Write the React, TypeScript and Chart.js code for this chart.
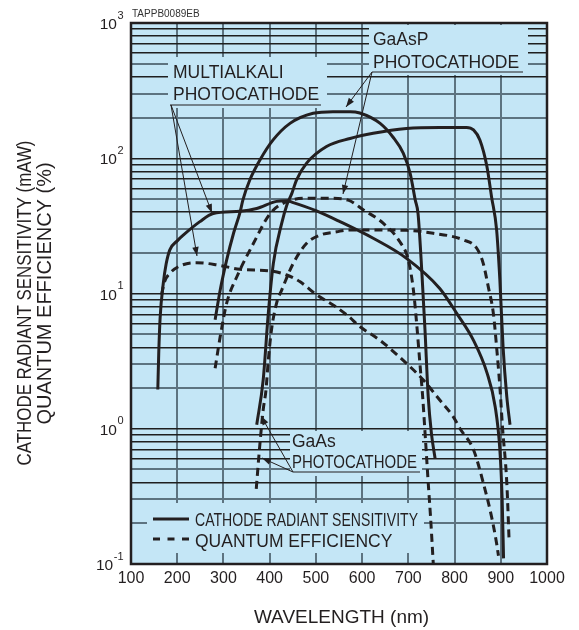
import React, { useEffect, useRef } from 'react';
import { Chart, registerables } from 'chart.js';

Chart.register(...registerables);

const FONT = '"Liberation Sans", Arial, Helvetica, sans-serif';
const INK = '#231f20';
const BG = '#c4e6f6';
const GRID_DARK = '#1f1f1f';
const GRID_GRAY = '#5d7380';

// ---- axis values ----
const xMin = 100;
const xMax = 1000;
const xStep = 100;
const yMin = 0.1;
const yMax = 1000;
const yGridValues = [
  0.1, 0.2, 0.3, 0.4, 0.5, 0.6, 0.7, 0.8, 0.9,
  1, 2, 3, 4, 5, 6, 7, 8, 9,
  10, 20, 30, 40, 50, 60, 70, 80, 90,
  100, 200, 300, 400, 500, 600, 700, 800, 900,
  1000,
];
const yLabelValues = [1000, 100, 10, 1, 0.1];
const yLabelExponents = ['3', '2', '1', '0', '-1'];

// ---- series (wavelength nm, value) ----
const multialkaliSensX = [158, 160, 163, 170, 176, 184, 200, 213, 249, 278, 336, 372, 415, 437, 451, 500, 552, 624, 696, 768, 805, 841, 870, 888, 898, 903, 906];
const multialkaliSensY = [1.95, 3.6, 6.6, 12, 16.5, 21, 24.5, 27, 34, 39, 40.5, 42.5, 48, 48.5, 47, 41, 34, 25.6, 18.2, 10.9, 7.1, 4.5, 2.6, 1.45, 0.7, 0.3, 0.11];

const multialkaliQeX = [166, 173, 184, 206, 242, 285, 336, 401, 437, 466, 502, 538, 570, 595, 639, 689, 732, 768, 797, 812, 841, 862, 880, 891, 895];
const multialkaliQeY = [9.8, 12.3, 14.1, 16, 16.9, 16.3, 15.1, 14.7, 13.7, 12.2, 9.75, 8.2, 6.8, 5.7, 4.5, 3.2, 2.3, 1.63, 1.23, 1.0, 0.7, 0.4, 0.224, 0.142, 0.115];

const gaasPSensX = [282, 293, 307, 322, 336, 342, 357, 379, 407, 444, 494, 537, 574, 595, 639, 667, 689, 704, 715, 721, 729, 736, 743, 750, 758];
const gaasPSensY = [6.4, 10.6, 17.7, 28, 40, 49, 69, 97, 136, 181, 215, 221, 221, 216, 181, 143, 109, 77, 49, 39, 14.9, 5.4, 1.73, 0.92, 0.6];

const gaasPQeX = [282, 293, 307, 329, 365, 401, 437, 480, 531, 570, 603, 646, 682, 700, 711, 718, 725, 731, 736, 743, 748, 754];
const gaasPQeY = [2.8, 4.8, 8.5, 13.3, 23.5, 39, 47.7, 50.6, 50.6, 49, 41.5, 33, 24, 17.7, 10.6, 6.0, 3.05, 1.73, 0.95, 0.4, 0.224, 0.1];

const gaasSensX = [372, 386, 397, 408, 426, 437, 448, 458, 480, 523, 574, 624, 696, 768, 826, 841, 855, 870, 880, 891, 898, 905, 913, 920];
const gaasSensY = [1.07, 2.3, 7.1, 16.7, 33, 45, 55, 69, 92, 122, 140, 153, 166, 169, 169, 162, 136, 87, 52, 29.5, 12.6, 4.0, 1.73, 1.07];

const gaasQeX = [371, 379, 386, 392, 397, 404, 415, 426, 451, 480, 509, 545, 570, 624, 696, 754, 819, 848, 862, 873, 884, 891, 898, 904, 913, 918];
const gaasQeY = [0.36, 0.78, 1.38, 1.93, 3.2, 5.4, 8.5, 10.6, 16.7, 23.5, 27, 28.6, 29.5, 29.5, 29.3, 27.9, 24.9, 21.6, 16.7, 11.2, 7.1, 4.0, 2.05, 1.0, 0.4, 0.15];

const toPoints = (xs: number[], ys: number[]) => xs.map((x, i) => ({ x, y: ys[i] }));

// ---- annotation layout (pixels) ----
const labelBoxes = [
  { x: 168, y: 57, w: 159, h: 51 },
  { x: 369, y: 25, w: 159, h: 50 },
  { x: 290, y: 431, w: 132, h: 45 },
  { x: 147, y: 503, w: 277, h: 50 },
];

const labelTexts = [
  { t: 'MULTIALKALI', x: 173, y: 78, mw: 0 },
  { t: 'PHOTOCATHODE', x: 173, y: 100, mw: 0 },
  { t: 'GaAsP', x: 373, y: 45, mw: 0 },
  { t: 'PHOTOCATHODE', x: 373, y: 67.5, mw: 0 },
  { t: 'GaAs', x: 292, y: 447, mw: 0 },
  { t: 'PHOTOCATHODE', x: 292, y: 468, mw: 125 },
];

const underlines = [
  { x1: 170, x2: 321, y: 105 },
  { x1: 372, x2: 523, y: 72 },
  { x1: 293, x2: 420, y: 472 },
];

const leaders = [
  { x1: 171, y1: 105, x2: 212, y2: 213 },
  { x1: 171, y1: 105, x2: 197, y2: 256 },
  { x1: 372, y1: 72, x2: 346, y2: 107 },
  { x1: 372, y1: 72, x2: 343, y2: 194 },
  { x1: 293, y1: 472, x2: 261, y2: 416 },
  { x1: 293, y1: 472, x2: 262, y2: 458 },
];

function drawArrow(ctx: CanvasRenderingContext2D, x1: number, y1: number, x2: number, y2: number) {
  ctx.beginPath();
  ctx.moveTo(x1, y1);
  ctx.lineTo(x2, y2);
  ctx.stroke();
  const a = Math.atan2(y2 - y1, x2 - x1);
  const L = 9;
  const W = 3.2;
  const c = Math.cos(a);
  const s = Math.sin(a);
  ctx.beginPath();
  ctx.moveTo(x2, y2);
  ctx.lineTo(x2 - L * c + W * s, y2 - L * s - W * c);
  ctx.lineTo(x2 - L * c - W * s, y2 - L * s + W * c);
  ctx.closePath();
  ctx.fill();
}

const overlayPlugin = {
  id: 'overlay',
  beforeDraw(chart: any) {
    const { ctx, chartArea: a } = chart;
    ctx.save();
    ctx.fillStyle = BG;
    ctx.fillRect(a.left, a.top, a.right - a.left, a.bottom - a.top);
    ctx.restore();
  },
  beforeDatasetsDraw(chart: any) {
    const { ctx } = chart;
    ctx.save();
    ctx.fillStyle = BG;
    labelBoxes.forEach((b) => ctx.fillRect(b.x, b.y, b.w, b.h));
    ctx.restore();
  },
  afterDatasetsDraw(chart: any) {
    const { ctx, chartArea: a } = chart;
    const ys = chart.scales.y;
    ctx.save();
    // frame
    ctx.strokeStyle = INK;
    ctx.lineWidth = 2.5;
    ctx.strokeRect(a.left, a.top, a.right - a.left, a.bottom - a.top);

    // annotation texts
    ctx.fillStyle = INK;
    ctx.textAlign = 'left';
    ctx.textBaseline = 'alphabetic';
    ctx.font = `17.5px ${FONT}`;
    labelTexts.forEach((l) => {
      if (l.mw) ctx.fillText(l.t, l.x, l.y, l.mw);
      else ctx.fillText(l.t, l.x, l.y);
    });
    ctx.lineWidth = 1;
    underlines.forEach((u) => {
      ctx.beginPath();
      ctx.moveTo(u.x1, u.y);
      ctx.lineTo(u.x2, u.y);
      ctx.stroke();
    });
    leaders.forEach((l) => drawArrow(ctx, l.x1, l.y1, l.x2, l.y2));

    // legend
    ctx.lineWidth = 3;
    ctx.beginPath();
    ctx.moveTo(153, 519);
    ctx.lineTo(189, 519);
    ctx.stroke();
    ctx.setLineDash([7, 7.5]);
    ctx.beginPath();
    ctx.moveTo(153, 539);
    ctx.lineTo(189, 539);
    ctx.stroke();
    ctx.setLineDash([]);
    ctx.font = `17.5px ${FONT}`;
    ctx.fillText('CATHODE RADIANT SENSITIVITY', 195, 526, 223);
    ctx.fillText('QUANTUM EFFICIENCY', 195, 547, 198);

    // top code
    ctx.font = `10px ${FONT}`;
    ctx.fillStyle = '#333';
    ctx.fillText('TAPPB0089EB', 132, 17);
    ctx.fillStyle = INK;

    // y tick labels with superscripts
    yLabelValues.forEach((v, i) => {
      const py = ys.getPixelForValue(v);
      const exp = yLabelExponents[i];
      ctx.font = `11px ${FONT}`;
      const ew = ctx.measureText(exp).width;
      const ex = 123.5 - ew;
      ctx.fillText(exp, ex, py - 4.5);
      ctx.font = `15.5px ${FONT}`;
      const bw = ctx.measureText('10').width;
      ctx.fillText('10', ex - 0.5 - bw, py + 6);
    });

    // axis titles
    ctx.font = `19px ${FONT}`;
    ctx.textAlign = 'center';
    ctx.fillText('WAVELENGTH (nm)', 341.5, 623);
    ctx.font = `20px ${FONT}`;
    ctx.save();
    ctx.translate(31, 303);
    ctx.rotate(-Math.PI / 2);
    ctx.fillText('CATHODE RADIANT SENSITIVITY (mAW)', 0, 0, 325);
    ctx.restore();
    ctx.save();
    ctx.translate(50.5, 293.5);
    ctx.rotate(-Math.PI / 2);
    ctx.fillText('QUANTUM EFFICIENCY (%)', 0, 0);
    ctx.restore();
    ctx.restore();
  },
};

function isGrayLine(v: number) {
  const m = Math.round(v / Math.pow(10, Math.floor(Math.log10(v) + 1e-9)));
  return m === 2 || m === 3 || m === 5;
}

export default function App() {
  const canvasRef = useRef<HTMLCanvasElement | null>(null);

  useEffect(() => {
    if (!canvasRef.current) return;
    const solid = { borderColor: INK, borderWidth: 3, pointRadius: 0, fill: false, cubicInterpolationMode: 'monotone' as const };
    const dashed = { ...solid, borderDash: [8, 5] };
    const chart = new Chart(canvasRef.current, {
      type: 'line',
      data: {
        datasets: [
          { label: 'Multialkali cathode radiant sensitivity', data: toPoints(multialkaliSensX, multialkaliSensY), ...solid },
          { label: 'Multialkali quantum efficiency', data: toPoints(multialkaliQeX, multialkaliQeY), ...dashed },
          { label: 'GaAsP cathode radiant sensitivity', data: toPoints(gaasPSensX, gaasPSensY), ...solid },
          { label: 'GaAsP quantum efficiency', data: toPoints(gaasPQeX, gaasPQeY), ...dashed },
          { label: 'GaAs cathode radiant sensitivity', data: toPoints(gaasSensX, gaasSensY), ...solid },
          { label: 'GaAs quantum efficiency', data: toPoints(gaasQeX, gaasQeY), ...dashed },
        ],
      },
      options: {
        animation: false,
        responsive: false,
        devicePixelRatio: 1,
        layout: { padding: { top: 23, right: 32, left: 0, bottom: 0 } },
        plugins: { legend: { display: false }, tooltip: { enabled: false } },
        scales: {
          x: {
            type: 'linear',
            min: xMin,
            max: xMax,
            ticks: {
              stepSize: xStep,
              color: INK,
              font: { size: 16, family: FONT },
              padding: 5,
              autoSkip: false,
              maxRotation: 0,
              callback: (v: any) => String(v),
            },
            grid: { color: GRID_GRAY, lineWidth: 2, drawTicks: false },
            border: { display: false },
            afterFit: (s: any) => { s.height = 66; },
          },
          y: {
            type: 'logarithmic',
            min: yMin,
            max: yMax,
            afterBuildTicks: (s: any) => { s.ticks = yGridValues.map((v) => ({ value: v })); },
            ticks: { display: false },
            grid: {
              drawTicks: false,
              color: (c: any) => (c.tick && isGrayLine(c.tick.value) ? GRID_GRAY : GRID_DARK),
              lineWidth: (c: any) => (c.tick && isGrayLine(c.tick.value) ? 2 : 1.5),
            },
            border: { display: false },
            afterFit: (s: any) => { s.width = 131; },
          },
        },
      },
      plugins: [overlayPlugin],
    } as any);
    return () => chart.destroy();
  }, []);

  return (
    <div style={{ position: 'fixed', left: 0, top: 0, width: 579, height: 630, background: '#fff' }}>
      <canvas ref={canvasRef} width={579} height={630} style={{ display: 'block' }} />
    </div>
  );
}
